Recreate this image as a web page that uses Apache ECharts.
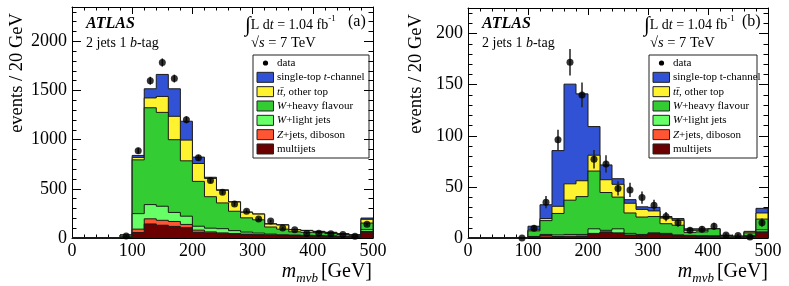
<!DOCTYPE html>
<html><head><meta charset="utf-8">
<script src="https://cdn.jsdelivr.net/npm/echarts@6/dist/echarts.min.js"></script>
<style>html,body{margin:0;padding:0;background:#fff}#c{width:789px;height:286px}</style>
</head><body><div id="c"></div>
<script>
// ---------------- data ----------------
const binStarts = [0,20,40,60,80,100,120,140,160,180,200,220,240,260,280,300,320,340,360,380,400,420,440,460,480];
const binWidth = 20;
const xTicks = [0,100,200,300,400,500];

// Panel (a): component contents per bin (not stacked)
const aMultijets = [0,0,0,0,5,55,143,130,118,104,58,52,44,40,35,30,28,24,22,20,18,16,14,12,58];
const aZjets     = [0,0,0,0,3,35,52,50,50,34,22,10,8,6,5,4,3,2,2,2,1,1,1,1,8];
const aWlight    = [0,0,0,0,4,158,145,143,92,84,40,38,43,29,20,16,9,7,6,5,5,4,3,3,19];
const aWheavy    = [0,0,0,0,18,547,985,955,740,563,456,320,262,197,145,135,72,57,33,31,31,24,18,11,67];
const aTtbar     = [0,0,0,0,0,25,100,162,238,211,182,186,128,94,57,58,30,42,21,18,11,11,8,6,38];
const aSingleTop = [0,0,0,0,0,20,93,224,280,192,65,12,5,2,2,2,3,3,2,2,2,2,1,1,13];
const aData      = [null,null,null,null,20,888,1600,1785,1622,1203,816,584,465,345,273,193,172,102,85,47,48,42,36,18,140];
const aErr       = [null,null,null,null,4.5,30,40,42,40,35,29,24,22,19,17,14,13,10,9,7,7,6.5,6,4,12];

// Panel (b)
const bMultijets = [0,0,0,0,0,0.5,1,1,1.2,1.5,4,5.5,4.5,2.5,2,4,3.5,2,2,1.5,1.5,0.5,0.4,1.5,5.5];
const bZjets     = [0,0,0,0,0,0.3,1.5,0.5,0.6,0.5,0.5,0.5,0.5,0.5,0.5,0.5,0.5,0.5,0.2,0.3,0.3,0.1,0.1,0.3,0.5];
const bWlight    = [0,0,0,0,0,0.7,1,1.5,1.7,1.5,4.5,1.5,4,1.5,1,0.5,0.5,0.5,0.3,0.4,0.2,0.2,0.1,0.4,2];
const bWheavy    = [0,0,0,0,0,5.5,13.5,21,33.5,37,56.5,37,31,20,17,16,9.5,9.5,3,3.8,7,1,0.6,2.8,10.5];
const bTtbar     = [0,0,0,0,0,1,2,7,16,15.5,15.5,12.5,12.5,9.5,7.5,5.5,5.5,4.8,2,1.5,0,0.7,0.5,1,6];
const bSingleTop = [0,0,0,0,0,3.5,13.5,54.5,97.5,85,28,14.5,5.5,3.5,2.5,3.5,1.5,1.7,1.5,1.5,0.3,0.2,0.2,0.5,4.5];
const bData      = [null,null,null,null,0,9.5,35,96,172,140,77,72.5,48.5,47,39.5,32,21,15,7.5,8.5,11.5,3,2.5,1,15];
const bErr       = [null,null,null,null,0,3,6,10,13,12,9,8.5,7,7,6,5.5,4.5,4,2.7,3,3.4,1.7,1.6,1,4];

// legend labels (top → bottom)
const legendA = ['data','single-top {i|t}-channel','{i|tt̄}, other top','{i|W}+heavy flavour','{i|W}+light jets','{i|Z}+jets, diboson','multijets'];
const legendB = ['data','single-top t-channel','{i|tt̄}, other top','{i|W}+heavy flavour','{i|W}+light jets','{i|Z}+jets, diboson','multijets'];

// ---------------- style ----------------
const FONT = '"Liberation Serif", "Times New Roman", serif';
const COLORS = ['#6b0000','#ff5533','#66ff66','#33cc33','#fff22e','#3152d4']; // bottom -> top
const OUTLINE = '#1a1a1a';

function cumulative(comps){
  const out=[]; let run=comps[0].map(()=>0);
  comps.forEach(c=>{ run=run.map((v,i)=>v+c[i]); out.push(run); });
  return out;
}

function panelSeries(g, comps, data, err){
  const cum = cumulative(comps);
  const xi = g*2, yi = g*4;
  const series=[];
  for(let k=cum.length-1;k>=0;k--){
    const top=cum[k], color=COLORS[k];
    series.push({
      type:'custom', xAxisIndex:xi, yAxisIndex:yi, data:[[0,0]], silent:true,
      renderItem:(params, api)=>{
        const pts=[api.coord([binStarts[0],0])];
        top.forEach((v,i)=>{ pts.push(api.coord([binStarts[i],v])); pts.push(api.coord([binStarts[i]+binWidth,v])); });
        pts.push(api.coord([binStarts[top.length-1]+binWidth,0]));
        return {type:'group', children:[
          {type:'polygon', shape:{points:pts}, style:{fill:color, stroke:null}},
          {type:'polyline', shape:{points:pts}, style:{stroke:OUTLINE, lineWidth:1, fill:null}}
        ]};
      }
    });
  }
  const pts=[];
  data.forEach((v,i)=>{ if(v!=null) pts.push([binStarts[i]+binWidth/2, v, err[i]]); });
  series.push({
    type:'custom', xAxisIndex:xi, yAxisIndex:yi, data:pts, silent:true,
    renderItem:(params, api)=>{
      const a=api.coord([api.value(0), api.value(1)-api.value(2)]);
      const b=api.coord([api.value(0), api.value(1)+api.value(2)]);
      return {type:'line', shape:{x1:a[0],y1:a[1],x2:b[0],y2:b[1]}, style:{stroke:'#222', lineWidth:1.5}};
    }
  });
  series.push({type:'scatter', xAxisIndex:xi, yAxisIndex:yi, data:pts.map(p=>[p[0],p[1]]),
    symbol:'circle', symbolSize:7, itemStyle:{color:'#000'}, silent:true});
  return series;
}

function xAxes(g){
  const base = {gridIndex:g, type:'value', min:xTicks[0], max:xTicks[xTicks.length-1], interval:100,
    axisLine:{onZero:false, lineStyle:{color:'#000', width:1}},
    axisTick:{inside:true, length:7, lineStyle:{color:'#000'}},
    minorTick:{show:true, splitNumber:5, length:3.5, lineStyle:{color:'#000'}},
    splitLine:{show:false}, minorSplitLine:{show:false}};
  return [
    Object.assign({}, base, {position:'bottom', axisLabel:{fontFamily:FONT, fontSize:18, color:'#000', margin:4}}),
    Object.assign({}, base, {position:'top', axisLabel:{show:false}})
  ];
}
function yAxes(g, ymax, major, minor){
  const mk=(pos, isMajor)=>({gridIndex:g, type:'value', min:0, max:ymax, interval:isMajor?major:minor, position:pos,
    axisLine:{show:isMajor, onZero:false, lineStyle:{color:'#000', width:1}},
    axisTick:{inside:true, length:isMajor?9:4.5, lineStyle:{color:'#000'}},
    axisLabel:(isMajor&&pos==='left')?{fontFamily:FONT, fontSize:18, color:'#000', margin:5,
      formatter:v=>(v%major===0?String(v):'')}:{show:false},
    splitLine:{show:false}});
  return [mk('left',true), mk('left',false), mk('right',true), mk('right',false)];
}

function texts(ox, axLeft, axRight, label, legendLabels, legendX, legendW){
  const g=[];
  const T=(x,y,text,opt)=>g.push(Object.assign({type:'text', x:x, y:y, silent:true,
    style:Object.assign({text:text, fill:'#000', textAlign:'left', textVerticalAlign:'middle', align:'left', verticalAlign:'middle',
      font:'14px '+FONT}, opt||{})}));
  T(ox, 24, 'ATLAS', {font:'italic bold 16px '+FONT});
  T(ox, 43, '2 jets 1 {i|b}-tag', {rich:{i:{fontStyle:'italic', fontSize:14, fontFamily:FONT}}});
  T(axLeft, 25, '{int|∫}L d{i|t} = 1.04 fb{sup|-1}', {rich:{
    int:{fontSize:21, fontFamily:FONT, lineHeight:21},
    i:{fontStyle:'italic', fontSize:14, fontFamily:FONT},
    sup:{fontSize:9, fontFamily:FONT, verticalAlign:'top'}}, font:'14px '+FONT});
  T(axRight, 22, label, {font:'16px '+FONT});
  T(axLeft+6, 43, '√{i|s} = 7 TeV', {rich:{i:{fontStyle:'italic', fontSize:14.5, fontFamily:FONT}}, font:'14.5px '+FONT});
  // legend
  g.push({type:'rect', shape:{x:legendX, y:55, width:legendW, height:103}, style:{fill:'#fff', stroke:'#222', lineWidth:1}, silent:true});
  const top=[null,5,4,3,2,1,0];
  legendLabels.forEach((lab,j)=>{
    const y=63+j*14.33;
    if(j===0){ g.push({type:'circle', shape:{cx:legendX+12.5, cy:y, r:2.6}, style:{fill:'#000'}, silent:true}); }
    else { g.push({type:'rect', shape:{x:legendX+4, y:y-5, width:16.5, height:10}, style:{fill:COLORS[top[j]], stroke:'#222', lineWidth:1}, silent:true}); }
    T(legendX+24, y, lab, {font:'11px '+FONT, rich:{i:{fontStyle:'italic', fontSize:11, fontFamily:FONT}}});
  });
  return g;
}

const graphic = [].concat(
  texts(86, 245, 348, '(a)', legendA, 253, 116),
  texts(482, 644, 742, '(b)', legendB, 649, 108),
  [
    {type:'text', x:17, y:73, rotation:Math.PI/2, silent:true, style:{text:'events / 20 GeV', font:'18.5px '+FONT, fill:'#000', textAlign:'center', textVerticalAlign:'middle', align:'center', verticalAlign:'middle'}},
    {type:'text', x:416, y:74, rotation:Math.PI/2, silent:true, style:{text:'events / 20 GeV', font:'18.5px '+FONT, fill:'#000', textAlign:'center', textVerticalAlign:'middle', align:'center', verticalAlign:'middle'}},
  ]
);
const xTitle = (xr)=>({type:'text', x:xr, y:272, silent:true, style:{
  text:'{m|m}{s|mvb}{n|[GeV]}', textAlign:'right', align:'right', textVerticalAlign:'middle', verticalAlign:'middle',
  rich:{m:{fontStyle:'italic', fontSize:20, fontFamily:FONT, lineHeight:26, verticalAlign:'middle'},
        s:{fontStyle:'italic', fontSize:13, fontFamily:FONT, verticalAlign:'bottom', padding:[0,3,0,0]},
        n:{fontSize:20, fontFamily:FONT, lineHeight:26, verticalAlign:'middle'}}}});
graphic.push(xTitle(372), xTitle(768));

const option = {
  animation:false,
  backgroundColor:'#fff',
  grid:[{left:72, top:7, width:301, height:231, show:false},
        {left:468, top:8, width:300, height:230, show:false}],
  xAxis:[].concat(xAxes(0), xAxes(1)),
  yAxis:[].concat(yAxes(0,2350,500,100), yAxes(1,225,50,10)),
  series:[].concat(
    panelSeries(0,[aMultijets,aZjets,aWlight,aWheavy,aTtbar,aSingleTop],aData,aErr),
    panelSeries(1,[bMultijets,bZjets,bWlight,bWheavy,bTtbar,bSingleTop],bData,bErr)
  ),
  graphic:graphic
};
const chart = echarts.init(document.getElementById('c'), null, {renderer:'canvas'});
chart.setOption(option);
</script></body></html>
